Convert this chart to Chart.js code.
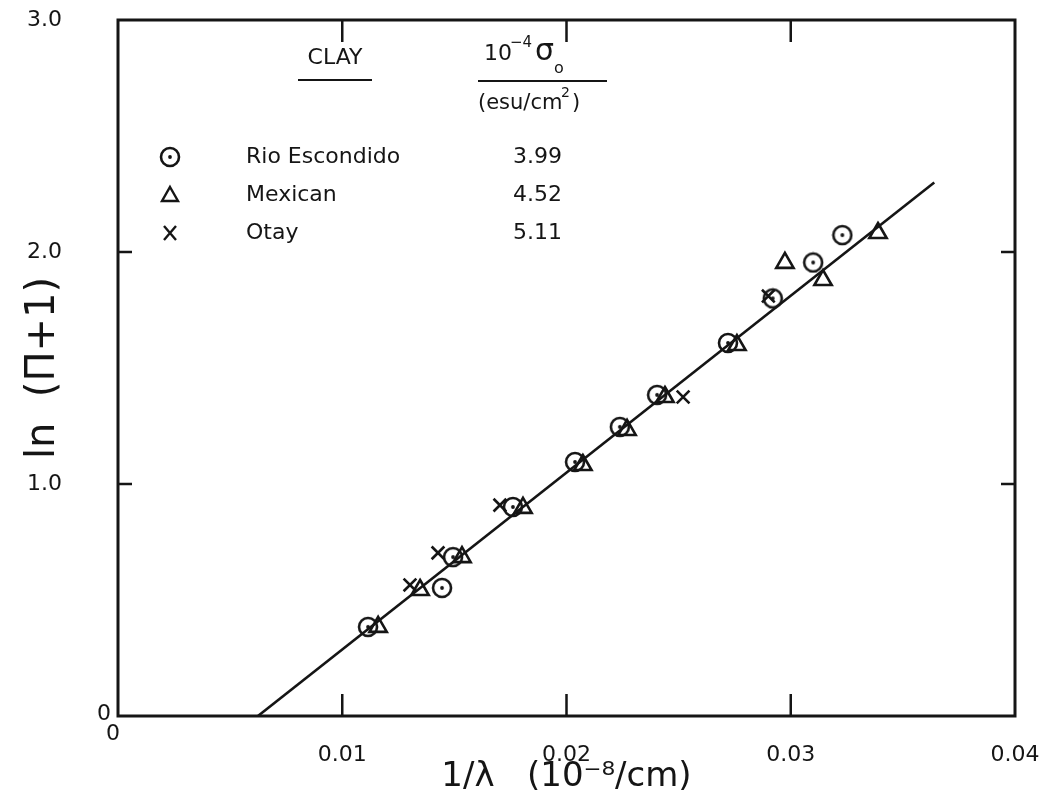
<!DOCTYPE html>
<html>
<head>
<meta charset="utf-8">
<script src="https://cdn.jsdelivr.net/npm/chart.js@4/dist/chart.umd.min.js"></script>
<style>
  html, body { margin: 0; padding: 0; background: #fff; }
  #wrap { width: 1046px; height: 810px; }
</style>
</head>
<body>
<div id="wrap"><canvas id="clayChart" width="1046" height="810"></canvas></div>
<script>
// 1/lambda (10^-8/cm) and ln(PI+1) for each clay
const rioX  = [0.01115, 0.01445, 0.01494, 0.01761, 0.02038, 0.02238, 0.02404, 0.0272, 0.0292, 0.0310, 0.0323];
const rioY  = [0.384, 0.552, 0.685, 0.901, 1.095, 1.246, 1.384, 1.608, 1.80, 1.955, 2.073];
const mexX  = [0.0116, 0.01347, 0.01534, 0.01806, 0.02073, 0.0227, 0.02439, 0.0276, 0.02974, 0.03144, 0.03389];
const mexY  = [0.384, 0.543, 0.685, 0.897, 1.082, 1.233, 1.375, 1.599, 1.953, 1.879, 2.082];
const otayX = [0.01302, 0.01427, 0.01703, 0.0252, 0.0290];
const otayY = [0.565, 0.703, 0.909, 1.375, 1.81];

// straight fit through all clays
const fitX = [0.00624, 0.0364];
const fitY = [0, 2.30];

const clays  = ['Rio Escondido', 'Mexican', 'Otay'];
const sigma0 = ['3.99', '4.52', '5.11'];

const xTicks = [0, 0.01, 0.02, 0.03, 0.04];
const yTicks = [0, 1.0, 2.0, 3.0];

const INK = '#151515';
const FONT = '"DejaVu Sans", sans-serif';

function pts(xs, ys) { return xs.map((x, i) => ({ x: x, y: ys[i] })); }

// circle with a centre dot
function dotCircle(r) {
  const c = document.createElement('canvas');
  c.width = c.height = r * 2 + 4;
  const g = c.getContext('2d');
  g.strokeStyle = INK; g.lineWidth = 2.6;
  g.beginPath(); g.arc(r + 2, r + 2, r, 0, Math.PI * 2); g.stroke();
  g.fillStyle = INK;
  g.beginPath(); g.arc(r + 2, r + 2, 1.9, 0, Math.PI * 2); g.fill();
  return c;
}
const circleImg = dotCircle(9);

function drawMarker(ctx, kind, x, y) {
  ctx.save();
  ctx.strokeStyle = INK; ctx.lineWidth = 2.4;
  if (kind === 0) {
    ctx.drawImage(circleImg, x - circleImg.width / 2, y - circleImg.height / 2);
  } else if (kind === 1) {
    ctx.beginPath();
    ctx.moveTo(x, y - 8); ctx.lineTo(x + 8, y + 6); ctx.lineTo(x - 8, y + 6); ctx.closePath();
    ctx.stroke();
  } else {
    ctx.beginPath();
    ctx.moveTo(x - 6, y - 7); ctx.lineTo(x + 6, y + 7);
    ctx.moveTo(x + 6, y - 7); ctx.lineTo(x - 6, y + 7);
    ctx.stroke();
  }
  ctx.restore();
}

// frame, inward ticks, origin label and the key box
const framePlugin = {
  id: 'frame',
  afterDraw(chart) {
    const ctx = chart.ctx;
    const a = chart.chartArea;
    const xs = chart.scales.x, ys = chart.scales.y;
    ctx.save();
    ctx.strokeStyle = INK;
    ctx.lineWidth = 3;
    ctx.strokeRect(a.left, a.top, a.right - a.left, a.bottom - a.top);
    ctx.lineWidth = 2.5;
    ctx.beginPath();
    [0.01, 0.02, 0.03].forEach(v => {
      const px = xs.getPixelForValue(v);
      ctx.moveTo(px, a.bottom); ctx.lineTo(px, a.bottom - 22);
      ctx.moveTo(px, a.top); ctx.lineTo(px, a.top + 22);
    });
    [1, 2].forEach(v => {
      const py = ys.getPixelForValue(v);
      ctx.moveTo(a.left, py); ctx.lineTo(a.left + 14, py);
      ctx.moveTo(a.right, py); ctx.lineTo(a.right - 14, py);
    });
    ctx.stroke();

    // stacked zeros at the origin
    ctx.fillStyle = INK;
    ctx.font = '22px ' + FONT;
    ctx.textAlign = 'center';
    ctx.textBaseline = 'middle';
    ctx.fillText('0', a.left - 14, a.bottom - 2);
    ctx.fillText('0', a.left - 5, a.bottom + 18);

    // key
    ctx.font = '22px ' + FONT;
    ctx.fillText('CLAY', 335, 58);
    ctx.lineWidth = 2;
    ctx.beginPath(); ctx.moveTo(298, 80); ctx.lineTo(372, 80); ctx.stroke();

    ctx.textAlign = 'left';
    ctx.font = '22px ' + FONT;
    ctx.fillText('10', 484, 54);
    ctx.font = '15px ' + FONT;
    ctx.fillText('\u22124', 510, 43);
    ctx.font = '30px ' + FONT;
    ctx.fillText('\u03c3', 535, 52);
    ctx.font = '16px ' + FONT;
    ctx.fillText('o', 554, 69);
    ctx.lineWidth = 2.2;
    ctx.beginPath(); ctx.moveTo(478, 81); ctx.lineTo(607, 81); ctx.stroke();
    ctx.font = '21px ' + FONT;
    ctx.fillText('(esu/cm', 478, 104);
    ctx.font = '14px ' + FONT;
    ctx.fillText('2', 561, 93);
    ctx.font = '21px ' + FONT;
    ctx.fillText(')', 572, 104);

    const rowY = [157, 195, 233];
    ctx.font = '22px ' + FONT;
    clays.forEach((name, i) => {
      drawMarker(ctx, i, 170, rowY[i]);
      ctx.fillStyle = INK;
      ctx.fillText(name, 246, rowY[i]);
      ctx.fillText(sigma0[i], 513, rowY[i]);
    });
    ctx.restore();
  }
};

const ctx = document.getElementById('clayChart').getContext('2d');

new Chart(ctx, {
  type: 'scatter',
  data: {
    datasets: [
      {
        label: 'fit',
        data: pts(fitX, fitY),
        showLine: true,
        borderColor: INK,
        borderWidth: 2.6,
        pointRadius: 0
      },
      {
        label: clays[0],
        data: pts(rioX, rioY),
        pointStyle: circleImg,
        pointRadius: 9
      },
      {
        label: clays[1],
        data: pts(mexX, mexY),
        pointStyle: 'triangle',
        pointRadius: 10,
        borderColor: INK,
        backgroundColor: 'rgba(0,0,0,0)',
        borderWidth: 2.6
      },
      {
        label: clays[2],
        data: pts(otayX, otayY),
        pointStyle: 'crossRot',
        pointRadius: 9,
        borderColor: INK,
        borderWidth: 2.6
      }
    ]
  },
  options: {
    responsive: false,
    animation: false,
    layout: { padding: { left: 0, right: 31, top: 20, bottom: 0 } },
    plugins: {
      legend: { display: false },
      tooltip: { enabled: false }
    },
    scales: {
      x: {
        type: 'linear',
        min: 0,
        max: 0.04,
        afterBuildTicks: s => { s.ticks = xTicks.map(v => ({ value: v })); },
        afterFit: s => { s.height = 94; s.paddingLeft = 0; s.paddingRight = 0; },
        grid: { display: false, drawTicks: false },
        border: { display: false },
        ticks: {
          padding: 26,
          color: INK,
          font: { family: FONT, size: 22 },
          maxRotation: 0,
          callback: v => (v === 0 ? '' : v.toFixed(2))
        },
        title: {
          display: true,
          text: '1/\u03bb   (10\u207b\u2078/cm)',
          color: INK,
          font: { family: FONT, size: 34 },
          padding: { top: 0, bottom: 12 }
        }
      },
      y: {
        type: 'linear',
        min: 0,
        max: 3,
        afterBuildTicks: s => { s.ticks = yTicks.map(v => ({ value: v })); },
        afterFit: s => { s.width = 118; s.paddingTop = 0; s.paddingBottom = 0; },
        grid: { display: false, drawTicks: false },
        border: { display: false },
        ticks: {
          padding: 56,
          color: INK,
          font: { family: FONT, size: 22 },
          callback: v => (v === 0 ? '' : v.toFixed(1))
        },
        title: {
          display: true,
          text: 'ln  (\u03a0+1)',
          color: INK,
          font: { family: FONT, size: 40 },
          padding: { top: 20, bottom: 0 }
        }
      }
    }
  },
  plugins: [framePlugin]
});
</script>
</body>
</html>
